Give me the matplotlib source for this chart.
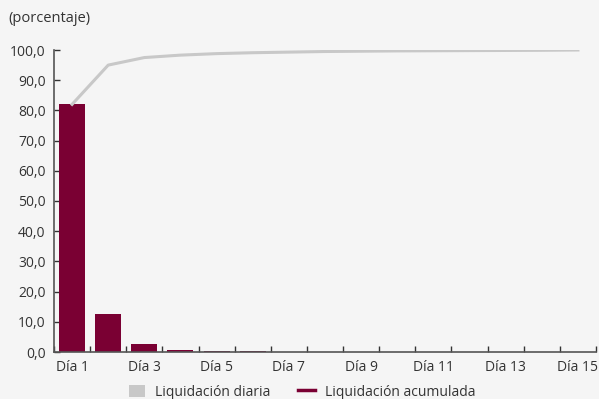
import matplotlib
matplotlib.use("Agg")
import matplotlib.pyplot as plt
from matplotlib.patches import Patch
from matplotlib.lines import Line2D
import numpy as np

days = [f"Día {i}" for i in range(1, 16)]
daily = [82.0, 12.6, 2.6, 0.8, 0.4, 0.2, 0.1, 0.1, 0.05, 0.05, 0.03, 0.03, 0.02, 0.02, 0.02]
cumulative = [82.0, 95.0, 97.5, 98.3, 98.8, 99.1, 99.3, 99.5, 99.6, 99.7, 99.75, 99.8, 99.85, 99.9, 100.0]
yticks = [0, 10, 20, 30, 40, 50, 60, 70, 80, 90, 100]

bg = "#f5f5f5"
maroon = "#7a0033"
gray = "#c8c8c8"
txt = "#333333"

plt.rcParams['font.family'] = ['Open Sans', 'DejaVu Sans']
fig = plt.figure(figsize=(5.99, 3.99), dpi=100, facecolor=bg)
ax = fig.add_axes([54/599, 1-352/399, (596-54)/599, (352-50)/399], facecolor=bg)

x = np.arange(len(days))
ax.bar(x, daily, width=0.72, color=maroon, zorder=2)
ax.plot(x, cumulative, color=gray, lw=2.2, zorder=3)

ax.set_xlim(-0.5, len(days)-0.5)
ax.set_ylim(0, 100)
ax.set_yticks(yticks)
ax.set_yticklabels([f"{v:.1f}".replace(".", ",") for v in yticks], color=txt, fontsize=10)
ax.set_xticks(x[::2])
ax.set_xticklabels(days[::2], color=txt, fontsize=10)
ax.set_xticks(np.arange(-0.5, len(days)), minor=True)
ax.tick_params(axis='x', which='major', length=0, pad=6)
ax.tick_params(axis='x', which='minor', direction='in', length=4, color=txt, width=1)
ax.tick_params(axis='y', direction='in', length=4, color=txt, width=1, pad=6)
for s in ['top', 'right']:
    ax.spines[s].set_visible(False)
for s in ['left', 'bottom']:
    ax.spines[s].set_color('#555555')
    ax.spines[s].set_linewidth(1.2)

fig.text(8/599, 1-18/399, "(porcentaje)", fontsize=10.5, color=txt, va='center', ha='left')

handles = [Patch(facecolor=gray, edgecolor='none'), Line2D([0], [0], color=maroon, lw=2.5)]
fig.legend(handles, ["Liquidación diaria", "Liquidación acumulada"], loc='center',
           bbox_to_anchor=(302/599, 1-392/399), ncol=2, frameon=False, fontsize=10,
           handlelength=1.2, handleheight=1.0, columnspacing=2.0, handletextpad=0.7,
           labelcolor=txt)

fig.savefig("out.png", dpi=100, facecolor=bg)
